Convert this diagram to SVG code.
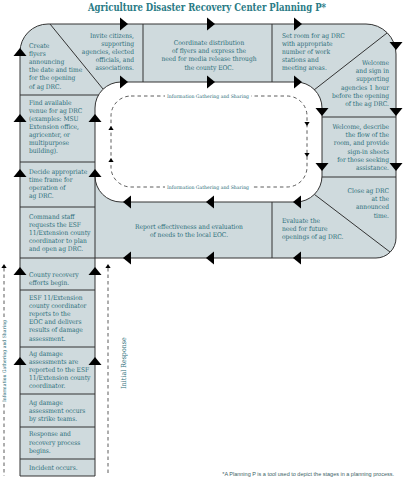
<svg xmlns="http://www.w3.org/2000/svg" width="403" height="480" viewBox="0 0 403 480">
<style>
.t{font-family:"DejaVu Serif","Liberation Serif",serif;font-size:6.6px;font-stretch:condensed;fill:#2b6e79}
.r{text-anchor:end}
.m{text-anchor:middle}
.ttl{font-family:"DejaVu Serif","Liberation Serif",serif;font-size:11.5px;font-weight:bold;font-stretch:condensed;fill:#2a7b86}
.sm{font-family:"DejaVu Serif","Liberation Serif",serif;font-size:4.8px;fill:#2b6e79}
.fn{font-family:"Liberation Sans","DejaVu Sans",sans-serif;font-size:5.5px;fill:#3d5f66}
.ln{fill:none;stroke:#333;stroke-width:1}
.ds{fill:none;stroke:#333;stroke-width:0.8;stroke-dasharray:3.5 3}
.ar{fill:#000}
</style>
<defs>
<path id="tri" d="M-6.5,-4H6.5L0,4Z"/>
<path id="stri" d="M-2.6,-2H2.6L0,2Z"/>
</defs>
<rect width="403" height="480" fill="#fff"/>
<text class="ttl m" x="207" y="11" textLength="238" lengthAdjust="spacingAndGlyphs">Agriculture Disaster Recovery Center Planning P*</text>
<g id="frame">
<path d="M20,476L20,52A28,28 0 0 1 48,24L366,24A30,30 0 0 1 396,54L396,238A20,20 0 0 1 376,258L95,258L95,476Z M121,82L296,82A26,26 0 0 1 322,108L322,176A26,26 0 0 1 296,202L121,202A26,26 0 0 1 95,176L95,108A26,26 0 0 1 121,82Z" fill="#cfdadd" fill-rule="evenodd" stroke="#333" stroke-width="1"/>
<path class="ln" d="M50,24L103,89M387,33L314,90M314.4,194.4L390,252M20,95H98.5M143,24V82M272,24V82M322,117H396M322,177H396M272,202V258M95,176V258M20,162H95M20,207H95M20,258H95M20,290H95M20,347H95M20,394H95M20,427H95M20,459H95"/>
</g>
<g id="n1"><text class="t"><tspan x="29" y="47.5">Create</tspan><tspan x="29" y="55.7">flyers</tspan><tspan x="29" y="63.9">announcing</tspan><tspan x="29" y="72.1">the date and time</tspan><tspan x="29" y="80.3">for the opening</tspan><tspan x="29" y="88.5">of ag DRC.</tspan></text></g>
<g id="n2"><text class="t r"><tspan x="134" y="37.5">Invite citizens,</tspan><tspan x="134" y="45.7">supporting</tspan><tspan x="134" y="53.9">agencies, elected</tspan><tspan x="134" y="62.1">officials, and</tspan><tspan x="134" y="70.3">associations.</tspan></text></g>
<g id="n3"><text class="t m"><tspan x="209" y="45">Coordinate distribution</tspan><tspan x="209" y="53.2">of flyers and express the</tspan><tspan x="209" y="61.4">need for media release through</tspan><tspan x="209" y="69.6">the county EOC.</tspan></text></g>
<g id="n4"><text class="t"><tspan x="282" y="37.5">Set room for ag DRC</tspan><tspan x="282" y="45.7">with appropriate</tspan><tspan x="282" y="53.9">number of work</tspan><tspan x="282" y="62.1">stations and</tspan><tspan x="282" y="70.3">meeting areas.</tspan></text></g>
<g id="n5"><text class="t r"><tspan x="389" y="65">Welcome</tspan><tspan x="389" y="73.2">and sign in</tspan><tspan x="389" y="81.4">supporting</tspan><tspan x="389" y="89.6">agencies 1 hour</tspan><tspan x="389" y="97.8">before the opening</tspan><tspan x="389" y="106">of the ag DRC.</tspan></text></g>
<g id="n6"><text class="t r"><tspan x="389" y="129">Welcome, describe</tspan><tspan x="389" y="137.2">the flow of the</tspan><tspan x="389" y="145.4">room, and provide</tspan><tspan x="389" y="153.6">sign-in sheets</tspan><tspan x="389" y="161.8">for those seeking</tspan><tspan x="389" y="170">assistance.</tspan></text></g>
<g id="n7"><text class="t r"><tspan x="389" y="193">Close ag DRC</tspan><tspan x="389" y="201.2">at the</tspan><tspan x="389" y="209.4">announced</tspan><tspan x="389" y="217.6">time.</tspan></text></g>
<g id="n8"><text class="t"><tspan x="282" y="223">Evaluate the</tspan><tspan x="282" y="231.2">need for future</tspan><tspan x="282" y="239.4">openings of ag DRC.</tspan></text></g>
<g id="n9"><text class="t m"><tspan x="189" y="229">Report effectiveness and evaluation</tspan><tspan x="189" y="237.2">of needs to the local EOC.</tspan></text></g>
<g id="n10"><text class="t"><tspan x="29" y="104.6">Find available</tspan><tspan x="29" y="112.6">venue for ag DRC</tspan><tspan x="29" y="120.6">(examples: MSU</tspan><tspan x="29" y="128.6">Extension office,</tspan><tspan x="29" y="136.6">agricenter, or</tspan><tspan x="29" y="144.6">multipurpose</tspan><tspan x="29" y="152.6">building).</tspan></text></g>
<g id="n11"><text class="t"><tspan x="29" y="174">Decide appropriate</tspan><tspan x="29" y="182">time frame for</tspan><tspan x="29" y="190">operation of</tspan><tspan x="29" y="198">ag DRC.</tspan></text></g>
<g id="n12"><text class="t"><tspan x="29" y="219">Command staff</tspan><tspan x="29" y="227">requests the ESF</tspan><tspan x="29" y="235">11/Extension county</tspan><tspan x="29" y="243">coordinator to plan</tspan><tspan x="29" y="251">and open ag DRC.</tspan></text></g>
<g id="n13"><text class="t"><tspan x="29" y="276.5">County recovery</tspan><tspan x="29" y="284.7">efforts begin.</tspan></text></g>
<g id="n14"><text class="t"><tspan x="29" y="299.6">ESF 11/Extension</tspan><tspan x="29" y="307.8">county coordinator</tspan><tspan x="29" y="316">reports to the</tspan><tspan x="29" y="324.2">EOC and delivers</tspan><tspan x="29" y="332.4">results of damage</tspan><tspan x="29" y="340.6">assessment.</tspan></text></g>
<g id="n15"><text class="t"><tspan x="29" y="355.6">Ag damage</tspan><tspan x="29" y="363.8">assessments are</tspan><tspan x="29" y="372">reported to the ESF</tspan><tspan x="29" y="380.2">11/Extension county</tspan><tspan x="29" y="388.4">coordinator.</tspan></text></g>
<g id="n16"><text class="t"><tspan x="29" y="404.6">Ag damage</tspan><tspan x="29" y="412.8">assessment occurs</tspan><tspan x="29" y="421">by strike teams.</tspan></text></g>
<g id="n17"><text class="t"><tspan x="29" y="436.3">Response and</tspan><tspan x="29" y="444.5">recovery process</tspan><tspan x="29" y="452.7">begins.</tspan></text></g>
<g id="n18"><text class="t"><tspan x="29" y="470">Incident occurs.</tspan></text></g>
<g id="connectors">
<g class="ar">
<use href="#tri" transform="translate(124,24) rotate(-90)"/>
<use href="#tri" transform="translate(211,24) rotate(-90)"/>
<use href="#tri" transform="translate(298,24) rotate(-90)"/>
<use href="#tri" transform="translate(124,82) rotate(-90)"/>
<use href="#tri" transform="translate(211,82) rotate(-90)"/>
<use href="#tri" transform="translate(298,82) rotate(-90)"/>
<use href="#tri" transform="translate(396,46)"/>
<use href="#tri" transform="translate(396,112)"/>
<use href="#tri" transform="translate(396,167)"/>
<use href="#tri" transform="translate(322,112)"/>
<use href="#tri" transform="translate(322,167)"/>
<use href="#tri" transform="translate(127,202) rotate(90)"/>
<use href="#tri" transform="translate(210,202) rotate(90)"/>
<use href="#tri" transform="translate(297,202) rotate(90)"/>
<use href="#tri" transform="translate(127,258) rotate(90)"/>
<use href="#tri" transform="translate(210,258) rotate(90)"/>
<use href="#tri" transform="translate(297,258) rotate(90)"/>
<use href="#tri" transform="translate(20,52) rotate(180)"/>
<use href="#tri" transform="translate(20,118) rotate(180)"/>
<use href="#tri" transform="translate(20,173) rotate(180)"/>
<use href="#tri" transform="translate(20,271) rotate(180)"/>
<use href="#tri" transform="translate(20,361) rotate(180)"/>
<use href="#tri" transform="translate(95,118) rotate(180)"/>
<use href="#tri" transform="translate(95,173) rotate(180)"/>
<use href="#tri" transform="translate(95,271) rotate(180)"/>
<use href="#tri" transform="translate(95,361) rotate(180)"/>
</g>
<rect class="ds" x="111" y="96" width="196" height="91" rx="20"/>
<rect x="165" y="93" width="86" height="6" fill="#fff"/>
<rect x="165" y="184" width="86" height="6" fill="#fff"/>
<path class="ds" d="M4,268V318M4,404V476M108,268V476"/>
<g class="ar">
<use href="#stri" transform="translate(111,128) rotate(180)"/>
<use href="#stri" transform="translate(111,160) rotate(180)"/>
<use href="#stri" transform="translate(307,124)"/>
<use href="#stri" transform="translate(307,155)"/>
<use href="#stri" transform="translate(4,266) rotate(180)"/>
<use href="#stri" transform="translate(108,266) rotate(180)"/>
</g>
<text class="sm m" x="208" y="97.7" textLength="82" lengthAdjust="spacingAndGlyphs">Information Gathering and Sharing</text>
<text class="sm m" x="208" y="188.7" textLength="82" lengthAdjust="spacingAndGlyphs">Information Gathering and Sharing</text>
<text class="sm m" transform="translate(6,361) rotate(-90)" textLength="82" lengthAdjust="spacingAndGlyphs">Information Gathering and Sharing</text>
<text class="t m" transform="translate(126,363) rotate(-90)" style="font-size:7px">Initial Response</text>
</g>
<text class="fn r" x="394" y="476">*A Planning P is a tool used to depict the stages in a planning process.</text>
</svg>
